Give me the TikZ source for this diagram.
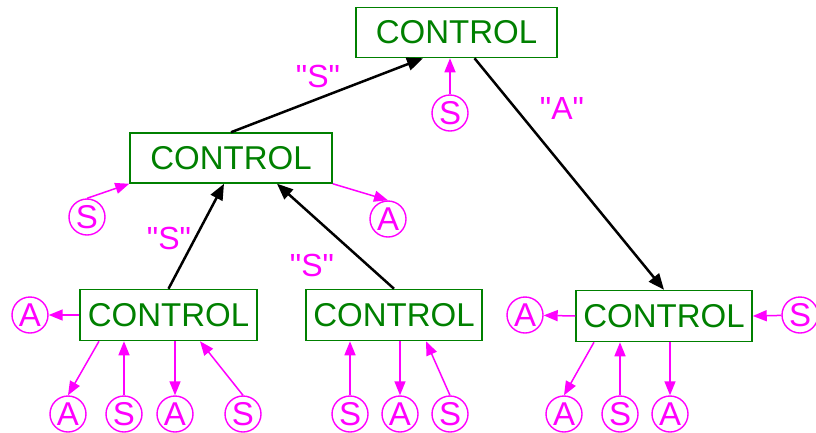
\documentclass[tikz,border=0pt]{standalone}
\usepackage{fontspec}
\setmainfont{Liberation Sans}
% same family without the TeX quote mapping, for straight quotes
\newfontfamily\plainsans{Liberation Sans}
\usetikzlibrary{arrows.meta}
\definecolor{boxgreen}{RGB}{0,128,0}
\definecolor{sigcol}{RGB}{255,0,255}
\begin{document}
\begin{tikzpicture}[x=1pt,y=-1pt,
  ctrl/.style={draw=boxgreen,line width=1.5pt,text=boxgreen,inner sep=0pt,
    minimum height=50pt,font=\fontsize{33}{38}\selectfont},
  sig/.style={circle,draw=sigcol,line width=1.4pt,text=sigcol,inner sep=0pt,
    minimum size=36pt,font=\fontsize{33}{38}\selectfont},
  msg/.style={text=sigcol,inner sep=0pt,font=\plainsans\fontsize{32}{38}\selectfont},
  link/.style={line width=2.5pt,-{Triangle[length=16pt,width=13pt]}},
  sarr/.style={draw=sigcol,line width=1.5pt,-{Triangle[length=14pt,width=11pt]},fill=sigcol}
]
\useasboundingbox (0,0) rectangle (816,432);

% control boxes
\node[ctrl,minimum width=201pt] (top) at (456.5,32.5) {CONTROL};
\node[ctrl,minimum width=202pt] (ml)  at (231,158)    {CONTROL};
\node[ctrl,minimum width=177pt,minimum height=51pt] (bl) at (168.5,315) {CONTROL};
\node[ctrl,minimum width=176pt,minimum height=51pt] (bm) at (394,315)   {CONTROL};
\node[ctrl,minimum width=176pt,minimum height=51pt] (br) at (664,316)   {CONTROL};

% links between the controls
\draw[link] (ml.north) -- ([xshift=-33.5pt]top.south);
\draw[link] ([xshift=18pt]top.south) -- (br.north);
\draw[link] (bl.north) -- ([xshift=-7pt]ml.south);
\draw[link] (bm.north) -- ([xshift=46pt]ml.south);

% message labels
\node[msg] (q1) at (318,76)  {"S"};
\node[msg] (q2) at (562,108) {"A"};
\node[msg] (q3) at (169,238) {"S"};
\node[msg] (q4) at (312,265) {"S"};

% signals of the top control
\node[sig] (ts) at (450,113) {S};
\draw[sarr] (ts) -- (top.south -| ts);

% signals of the middle control
\node[sig] (ms) at (87,217) {S};
\node[sig] (ma) at (388,219) {A};
\draw[sarr] (ms.north) -- (ml.south west);
\draw[sarr] (ml.south east) -- (ma.north);

% signals of the lower left control
\node[sig] (la)  at (30,315)  {A};
\node[sig] (la1) at (68,414)  {A};
\node[sig] (ls1) at (124,414) {S};
\node[sig] (la2) at (175,414) {A};
\node[sig] (ls2) at (243,414) {S};
\draw[sarr] (bl.west) -- (la);
\draw[sarr] ([xshift=-69.5pt]bl.south) -- (la1.north);
\draw[sarr] (ls1) -- (bl.south -| ls1);
\draw[sarr] (bl.south -| la2) -- (la2);
\draw[sarr] (ls2.north) -- ([xshift=31.5pt]bl.south);

% signals of the lower middle control
\node[sig] (ms1) at (350,414) {S};
\node[sig] (ma1) at (400,414) {A};
\node[sig] (ms2) at (450,414) {S};
\draw[sarr] (ms1) -- (bm.south -| ms1);
\draw[sarr] (bm.south -| ma1) -- (ma1);
\draw[sarr] (ms2.north) -- ([xshift=32pt]bm.south);

% signals of the right control
\node[sig] (ra)  at (525,315) {A};
\node[sig] (rs)  at (800,315) {S};
\node[sig] (ra1) at (564,414) {A};
\node[sig] (rs1) at (620,414) {S};
\node[sig] (ra2) at (670,414) {A};
\draw[sarr] (br.west) -- (ra);
\draw[sarr] (rs) -- (br.east);
\draw[sarr] ([xshift=-70pt]br.south) -- (ra1.north);
\draw[sarr] (rs1) -- (br.south -| rs1);
\draw[sarr] (br.south -| ra2) -- (ra2);
\end{tikzpicture}
\end{document}
